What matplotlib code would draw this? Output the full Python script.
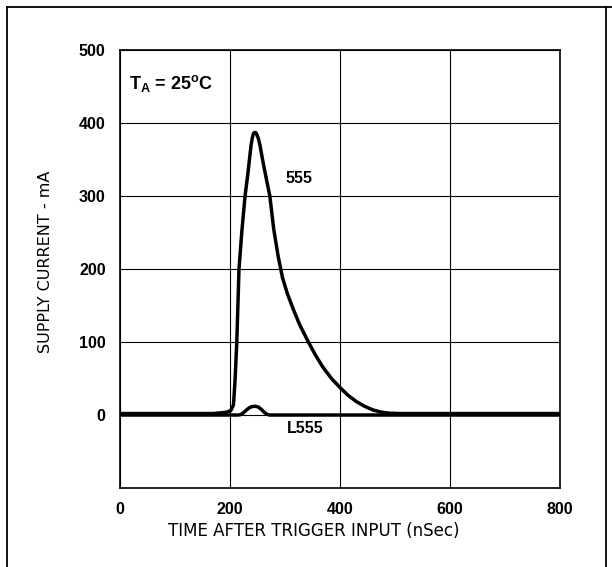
import matplotlib
matplotlib.use("Agg")
import matplotlib.pyplot as plt
from matplotlib.lines import Line2D

plt.rcParams["font.family"] = ["Liberation Sans", "DejaVu Sans"]
plt.rcParams["mathtext.fontset"] = "custom"
plt.rcParams["mathtext.rm"] = "Liberation Sans"
plt.rcParams["mathtext.bf"] = "Liberation Sans:bold"

# 555 supply current transient
t_555 = [0, 100, 170, 185, 195, 202, 207, 210, 213, 217, 222, 228, 233, 236,
         239, 241, 243, 245, 247, 249, 252, 255, 260, 266, 273, 280, 288, 296,
         305, 315, 327, 343, 356, 369, 385, 400, 415, 430, 445, 460, 475, 490,
         510, 550, 650, 800]
i_555 = [2, 2, 2, 3, 4, 6, 14, 50, 100, 200, 250, 300, 330, 350,
         370, 379, 385, 387, 387, 385, 379, 370, 349, 326, 300, 255, 218, 188,
         166, 146, 124, 100, 82, 66, 50, 38, 27, 18.5, 12, 7, 4, 2.5,
         2, 2, 2, 2]

# L555 supply current transient
t_l555 = [0, 215, 220, 225, 230, 235, 240, 246, 252, 258, 263, 268, 272, 800]
i_l555 = [0, 0, 0.5, 3, 6.5, 9.5, 11.5, 12, 11, 7.5, 3.5, 1, 0, 0]

x_ticks = [0, 200, 400, 600, 800]
y_ticks = [0, 100, 200, 300, 400, 500]

fig = plt.figure(figsize=(6.12, 5.67), dpi=100)
fig.patch.set_facecolor("white")
ax = fig.add_axes([0.1953, 0.1393, 0.7197, 0.7725])

ax.set_xlim(0, 800)
ax.set_ylim(-100, 500)
ax.set_xticks(x_ticks)
ax.set_yticks(y_ticks)
ax.set_xticklabels([str(v) for v in x_ticks], fontweight="bold", fontsize=11.5)
ax.set_yticklabels([str(v) for v in y_ticks], fontweight="bold", fontsize=11.5)
ax.tick_params(length=0, pad=10)
ax.grid(True, color="black", lw=0.8)
ax.set_axisbelow(True)
for s in ax.spines.values():
    s.set_linewidth(1.2)

ax.plot(t_555, i_555, color="black", lw=2.5, solid_joinstyle="round", zorder=3)
ax.plot(t_l555, i_l555, color="black", lw=2.5, solid_joinstyle="round", zorder=3)

ax.text(326, 324, "555", fontsize=11.5, fontweight="bold", ha="center", va="center")
ax.text(338, -19, "L555", fontsize=11.5, fontweight="bold", ha="center", va="center")
ax.text(18, 446, r"$\mathbf{T_A}$ = 25$^{\mathbf{o}}$C", fontsize=13, fontweight="bold",
        ha="left", va="baseline")

fig.text(45.7 / 612, 1 - 262 / 567, "SUPPLY CURRENT - mA", rotation=90,
         ha="center", va="center", fontsize=11.5, family="DejaVu Sans")
fig.text(314 / 612, 1 - 531 / 567, "TIME AFTER TRIGGER INPUT (nSec)",
         ha="center", va="center", fontsize=12, family="DejaVu Sans")

# scanned page border
W, H = 612, 567
for xs, ys in [((6.5, 6.5), (0, H - 6.5)), ((6.5, W), (H - 6.5, H - 6.5)),
               ((606, 606), (0, H - 6.5))]:
    fig.add_artist(Line2D([x / W for x in xs], [y / H for y in ys],
                          color="black", lw=1.3, transform=fig.transFigure))

fig.savefig("out.png", dpi=100, facecolor="white")
